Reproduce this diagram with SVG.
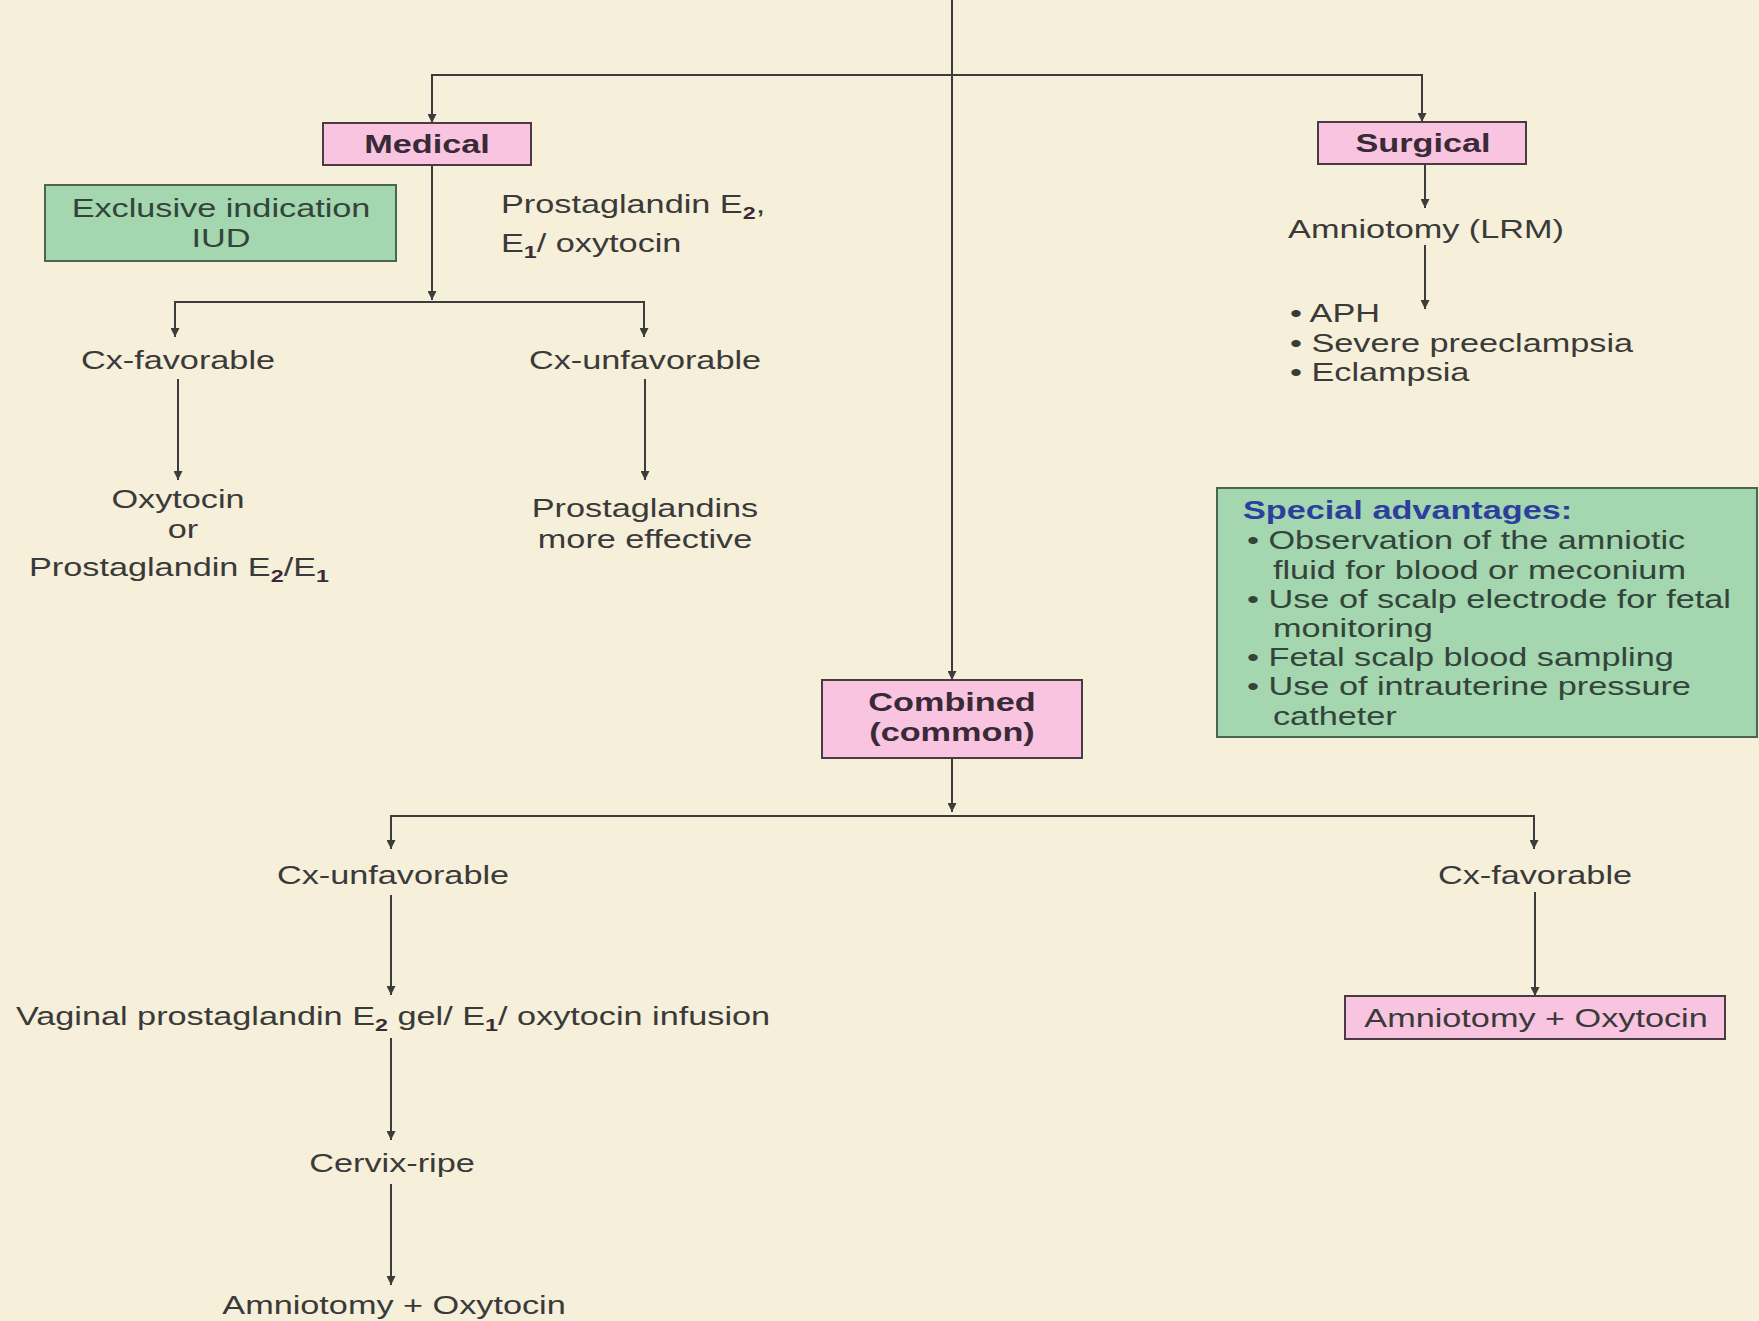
<svg xmlns="http://www.w3.org/2000/svg" width="1759" height="1321" viewBox="0 0 1759 1321">
<style>
.t{font-family:"Liberation Sans",Arial,sans-serif;font-size:25px;fill:#3a3a3a}
.b{font-weight:bold;fill:#3a2a38}
.h{font-weight:bold;fill:#2c3f9c}
.g{fill:#33443a}
.pk{fill:#f8c4df;stroke:#4a3a44;stroke-width:2}
.gr{fill:#a4d6b0;stroke:#4b6650;stroke-width:2}
.c{fill:none;stroke:#3c3c3c;stroke-width:2}
.sub{font-size:17px}
</style>
<defs>
<marker id="ah" viewBox="0 0 10 10" refX="10" refY="5" markerWidth="9" markerHeight="9" markerUnits="userSpaceOnUse" orient="auto"><path d="M0,0 L10,5 L0,10 z" fill="#3c3c3c"/></marker>
</defs>
<rect width="1759" height="1321" fill="#f6efd9"/>

<g id="connectors">
<path class="c" d="M952,0 V680" marker-end="url(#ah)"/>
<path class="c" d="M952,75 H432 V123" marker-end="url(#ah)"/>
<path class="c" d="M952,75 H1422 V122" marker-end="url(#ah)"/>
<path class="c" d="M432,165 V300" marker-end="url(#ah)"/>
<path class="c" d="M432,302 H175 V337" marker-end="url(#ah)"/>
<path class="c" d="M432,302 H644 V337" marker-end="url(#ah)"/>
<path class="c" d="M178,379 V480" marker-end="url(#ah)"/>
<path class="c" d="M645,379 V480" marker-end="url(#ah)"/>
<path class="c" d="M1425,164 V208" marker-end="url(#ah)"/>
<path class="c" d="M1425,245 V309" marker-end="url(#ah)"/>
<path class="c" d="M952,758 V812" marker-end="url(#ah)"/>
<path class="c" d="M952,816 H391 V849" marker-end="url(#ah)"/>
<path class="c" d="M952,816 H1534 V849" marker-end="url(#ah)"/>
<path class="c" d="M391,895 V995" marker-end="url(#ah)"/>
<path class="c" d="M391,1038 V1140" marker-end="url(#ah)"/>
<path class="c" d="M391,1184 V1285" marker-end="url(#ah)"/>
<path class="c" d="M1535,892 V996" marker-end="url(#ah)"/>
</g>

<g id="medical">
<rect class="pk" x="323" y="123" width="208" height="42"/>
<text class="t b" text-anchor="middle" transform="translate(427,153) scale(1.37,1)">Medical</text>
</g>

<g id="surgical">
<rect class="pk" x="1318" y="122" width="208" height="42"/>
<text class="t b" text-anchor="middle" transform="translate(1423,152) scale(1.37,1)">Surgical</text>
</g>

<g id="exclusive">
<rect class="gr" x="45" y="185" width="351" height="76"/>
<text class="t g" text-anchor="middle" transform="translate(221,217) scale(1.37,1)">Exclusive indication<tspan x="0" dy="30">IUD</tspan></text>
</g>

<g id="medical-drugs">
<text class="t" transform="translate(501,213) scale(1.37,1)">Prostaglandin E<tspan class="sub b" dy="6">2</tspan><tspan dy="-6">,</tspan></text>
<text class="t" transform="translate(501,252) scale(1.37,1)">E<tspan class="sub b" dy="6">1</tspan><tspan dy="-6">/ oxytocin</tspan></text>
</g>

<g id="cx-fav-1">
<text class="t" text-anchor="middle" transform="translate(178,369) scale(1.37,1)">Cx-favorable</text>
</g>
<g id="cx-unfav-1">
<text class="t" text-anchor="middle" transform="translate(645,369) scale(1.37,1)">Cx-unfavorable</text>
</g>

<g id="oxytocin-or">
<text class="t" text-anchor="middle" transform="translate(178,508) scale(1.37,1)">Oxytocin</text>
<text class="t" text-anchor="middle" transform="translate(183,538) scale(1.37,1)">or</text>
<text class="t" text-anchor="middle" transform="translate(179,576) scale(1.37,1)">Prostaglandin E<tspan class="sub b" dy="6">2</tspan><tspan dy="-6">/E</tspan><tspan class="sub b" dy="6">1</tspan></text>
</g>

<g id="prostaglandins">
<text class="t" text-anchor="middle" transform="translate(645,517) scale(1.37,1)">Prostaglandins<tspan x="0" dy="31">more effective</tspan></text>
</g>

<g id="amniotomy-lrm">
<text class="t" text-anchor="middle" transform="translate(1426,238) scale(1.37,1)">Amniotomy (LRM)</text>
</g>

<g id="indications">
<text class="t" transform="translate(1290,322) scale(1.37,1)">• APH<tspan x="0" dy="30">• Severe preeclampsia</tspan><tspan x="0" dy="29">• Eclampsia</tspan></text>
</g>

<g id="special">
<rect class="gr" x="1217" y="488" width="540" height="249"/>
<text class="t h" transform="translate(1243,519) scale(1.37,1)">Special advantages:</text>
<text class="t g" transform="translate(1247,549) scale(1.37,1)">• Observation of the amniotic</text>
<text class="t g" transform="translate(1273,579) scale(1.37,1)">fluid for blood or meconium</text>
<text class="t g" transform="translate(1247,608) scale(1.37,1)">• Use of scalp electrode for fetal</text>
<text class="t g" transform="translate(1273,637) scale(1.37,1)">monitoring</text>
<text class="t g" transform="translate(1247,666) scale(1.37,1)">• Fetal scalp blood sampling</text>
<text class="t g" transform="translate(1247,695) scale(1.37,1)">• Use of intrauterine pressure</text>
<text class="t g" transform="translate(1273,725) scale(1.37,1)">catheter</text>
</g>

<g id="combined">
<rect class="pk" x="822" y="680" width="260" height="78"/>
<text class="t b" text-anchor="middle" transform="translate(952,711) scale(1.37,1)">Combined<tspan x="0" dy="30">(common)</tspan></text>
</g>

<g id="cx-unfav-2">
<text class="t" text-anchor="middle" transform="translate(393,884) scale(1.37,1)">Cx-unfavorable</text>
</g>
<g id="cx-fav-2">
<text class="t" text-anchor="middle" transform="translate(1535,884) scale(1.37,1)">Cx-favorable</text>
</g>

<g id="vaginal">
<text class="t" text-anchor="middle" transform="translate(393,1025) scale(1.37,1)">Vaginal prostaglandin E<tspan class="sub b" dy="6">2</tspan><tspan dy="-6"> gel/ E</tspan><tspan class="sub b" dy="6">1</tspan><tspan dy="-6">/ oxytocin infusion</tspan></text>
</g>

<g id="cervix-ripe">
<text class="t" text-anchor="middle" transform="translate(392,1172) scale(1.37,1)">Cervix-ripe</text>
</g>

<g id="amnio-oxy-left">
<text class="t" text-anchor="middle" transform="translate(394,1314) scale(1.37,1)">Amniotomy + Oxytocin</text>
</g>

<g id="amnio-oxy-right">
<rect class="pk" x="1345" y="996" width="380" height="43"/>
<text class="t" text-anchor="middle" transform="translate(1536,1027) scale(1.37,1)">Amniotomy + Oxytocin</text>
</g>
</svg>
